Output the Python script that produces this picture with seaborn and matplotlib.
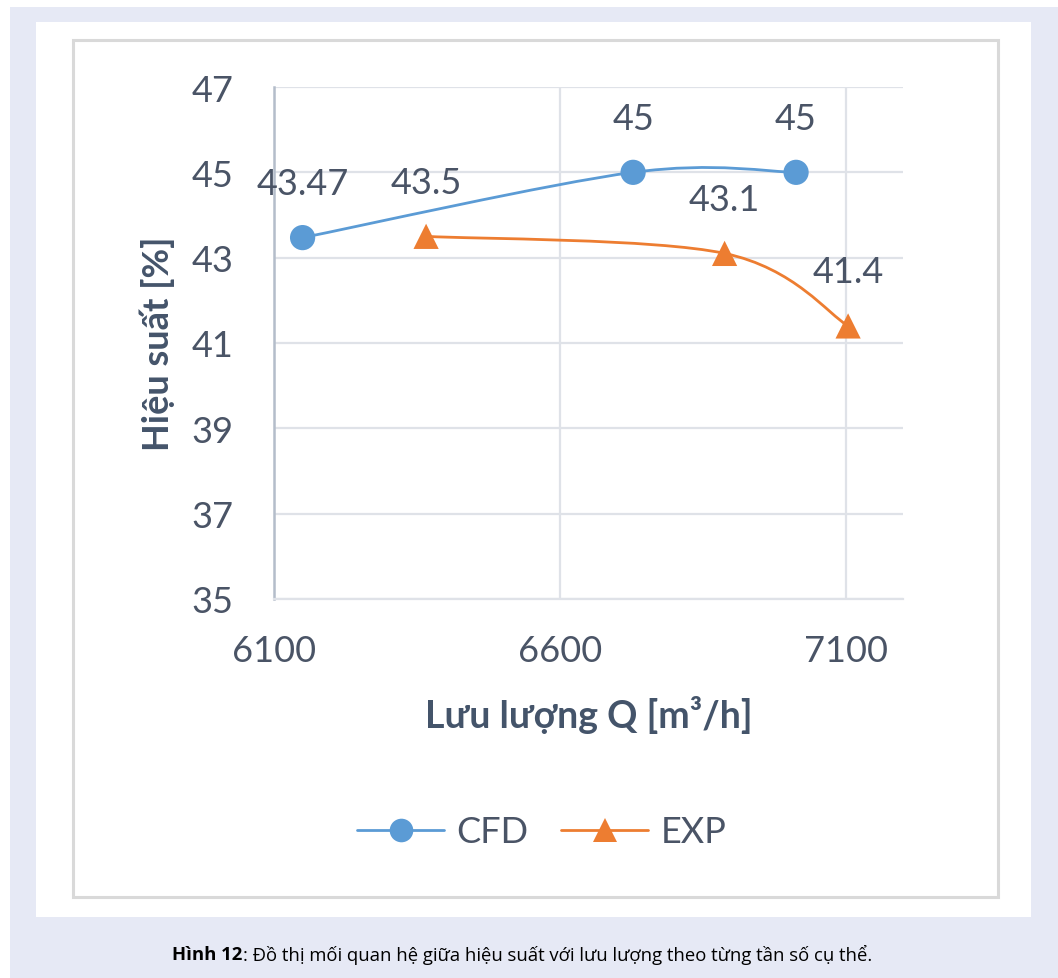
import numpy as np
import pandas as pd
import matplotlib
matplotlib.use("Agg")
import matplotlib.pyplot as plt
from matplotlib.path import Path
from matplotlib.patches import PathPatch, Rectangle
from matplotlib.lines import Line2D
import seaborn as sns

# ---- data -------------------------------------------------------------
cfd_q = [6150, 6728, 7013]
cfd_eff = [43.47, 45.0, 45.0]
exp_q = [6366, 6888, 7104]
exp_eff = [43.5, 43.1, 41.4]
series_names = ["CFD", "EXP"]
x_ticks = [6100, 6600, 7100]
y_ticks = [35, 37, 39, 41, 43, 45, 47]

BLUE = "#5b9bd5"
ORANGE = "#ed7d31"
TEXT = "#4a5466"
TITLE = "#44546a"

sns.set_theme(style="white")
plt.rcParams["font.family"] = ["Lato", "DejaVu Sans"]

W, H = 1058, 979
fig = plt.figure(figsize=(W / 100, H / 100), dpi=100)
fig.patch.set_facecolor("white")

def px_rect(x0, y0, x1, y1, **kw):
    return Rectangle((x0 / W, 1 - y1 / H), (x1 - x0) / W, (y1 - y0) / H,
                     transform=fig.transFigure, **kw)

# page background, white card and chart border
fig.patches.append(px_rect(10, 8, W, H, facecolor="#e6e9f5", edgecolor="none", zorder=-3))
fig.patches.append(px_rect(36, 23, 1031, 918, facecolor="white", edgecolor="none", zorder=-2))
fig.patches.append(px_rect(73, 41, 998, 898, facecolor="white", edgecolor="#d9d9d9",
                           linewidth=2.2, zorder=-1))

ax = fig.add_axes([274 / W, 1 - 600 / H, (903 - 274) / W, (600 - 88) / H])
ax.set_facecolor("none")

frames = []
for name, q, e in [("CFD", cfd_q, cfd_eff), ("EXP", exp_q, exp_eff)]:
    frames.append(pd.DataFrame({"Q": q, "eff": e, "series": name}))
df = pd.concat(frames, ignore_index=True)


def smooth_path(xs, ys):
    """Cubic Bezier path through the points (spreadsheet-style smoothing)."""
    pts = np.column_stack([xs, ys]).astype(float)
    n = len(pts)
    verts = [pts[0]]
    codes = [Path.MOVETO]
    for i in range(n - 1):
        p_prev = pts[i - 1] if i > 0 else pts[i]
        p_next2 = pts[i + 2] if i + 2 < n else pts[i + 1]
        c1 = pts[i] + (pts[i + 1] - p_prev) / 6.0
        c2 = pts[i + 1] - (p_next2 - pts[i]) / 6.0
        verts += [c1, c2, pts[i + 1]]
        codes += [Path.CURVE4] * 3
    return Path(verts, codes)


colors = {"CFD": BLUE, "EXP": ORANGE}
markers = {"CFD": "o", "EXP": "^"}
for name in series_names:
    sub = df[df.series == name]
    ax.add_patch(PathPatch(smooth_path(sub.Q.values, sub.eff.values), facecolor="none",
                           edgecolor=colors[name], linewidth=2.0, zorder=3))

sns.scatterplot(data=df, x="Q", y="eff", hue="series", style="series",
                palette=colors, markers=markers, s=330, edgecolor="none",
                legend=False, ax=ax, zorder=4)

# data labels above each point
for name in series_names:
    sub = df[df.series == name]
    for q, e in zip(sub.Q, sub.eff):
        ax.annotate(f"{e:g}", (q, e), xytext=(0, 39), textcoords="offset points",
                    ha="center", va="center", fontsize=26, color=TEXT, zorder=5)

ax.set_xlim(6100, 7200)
ax.set_ylim(35, 47)
ax.set_xticks(x_ticks)
ax.set_yticks(y_ticks)
ax.tick_params(axis="both", length=0, labelsize=26, labelcolor=TEXT)
ax.tick_params(axis="x", pad=25)
ax.tick_params(axis="y", pad=29)
ax.grid(True, color="#dfe2e8", linewidth=1.6, zorder=0)
ax.set_axisbelow(True)
for s in ["top", "right"]:
    ax.spines[s].set_visible(False)
ax.spines["left"].set_color("#b4bdca")
ax.spines["left"].set_linewidth(1.8)
ax.spines["bottom"].set_color("#dfe2e8")
ax.spines["bottom"].set_linewidth(1.6)

ax.set_xlabel("Lưu lượng Q [m³/h]", fontsize=27, fontweight="bold", color=TITLE, labelpad=20)
ax.set_ylabel("Hiệu suất [%]", fontsize=26, fontweight="bold", color=TITLE, labelpad=12)

handles = [Line2D([], [], color=colors[n], marker=markers[n], markersize=17,
                  markeredgewidth=0, linewidth=2.0) for n in series_names]
fig.legend(handles, series_names, loc="center", ncol=2, frameon=False,
           bbox_to_anchor=(542 / W, 1 - 833 / H), fontsize=26, labelcolor=TEXT,
           handlelength=2.4, handletextpad=0.35, columnspacing=0.9, numpoints=1)

# figure caption: bold prefix followed by regular text, centred as one line
cap_y = 1 - 955 / H
bold = fig.text(0, cap_y, "Hình 12", fontsize=13.3, fontweight="bold", color="black",
                family=["Open Sans", "DejaVu Sans"], va="center")
rest = fig.text(0, cap_y, ": Đồ thị mối quan hệ giữa hiệu suất với lưu lượng theo từng tần số cụ thể.",
                fontsize=13.3, color="black", family=["Open Sans", "DejaVu Sans"], va="center")
fig.canvas.draw()
r = fig.canvas.get_renderer()
wb = bold.get_window_extent(r).width
wr = rest.get_window_extent(r).width
x0 = 522 - (wb + wr) / 2
bold.set_x(x0 / W)
rest.set_x((x0 + wb) / W)

fig.savefig("out.png", dpi=100)
